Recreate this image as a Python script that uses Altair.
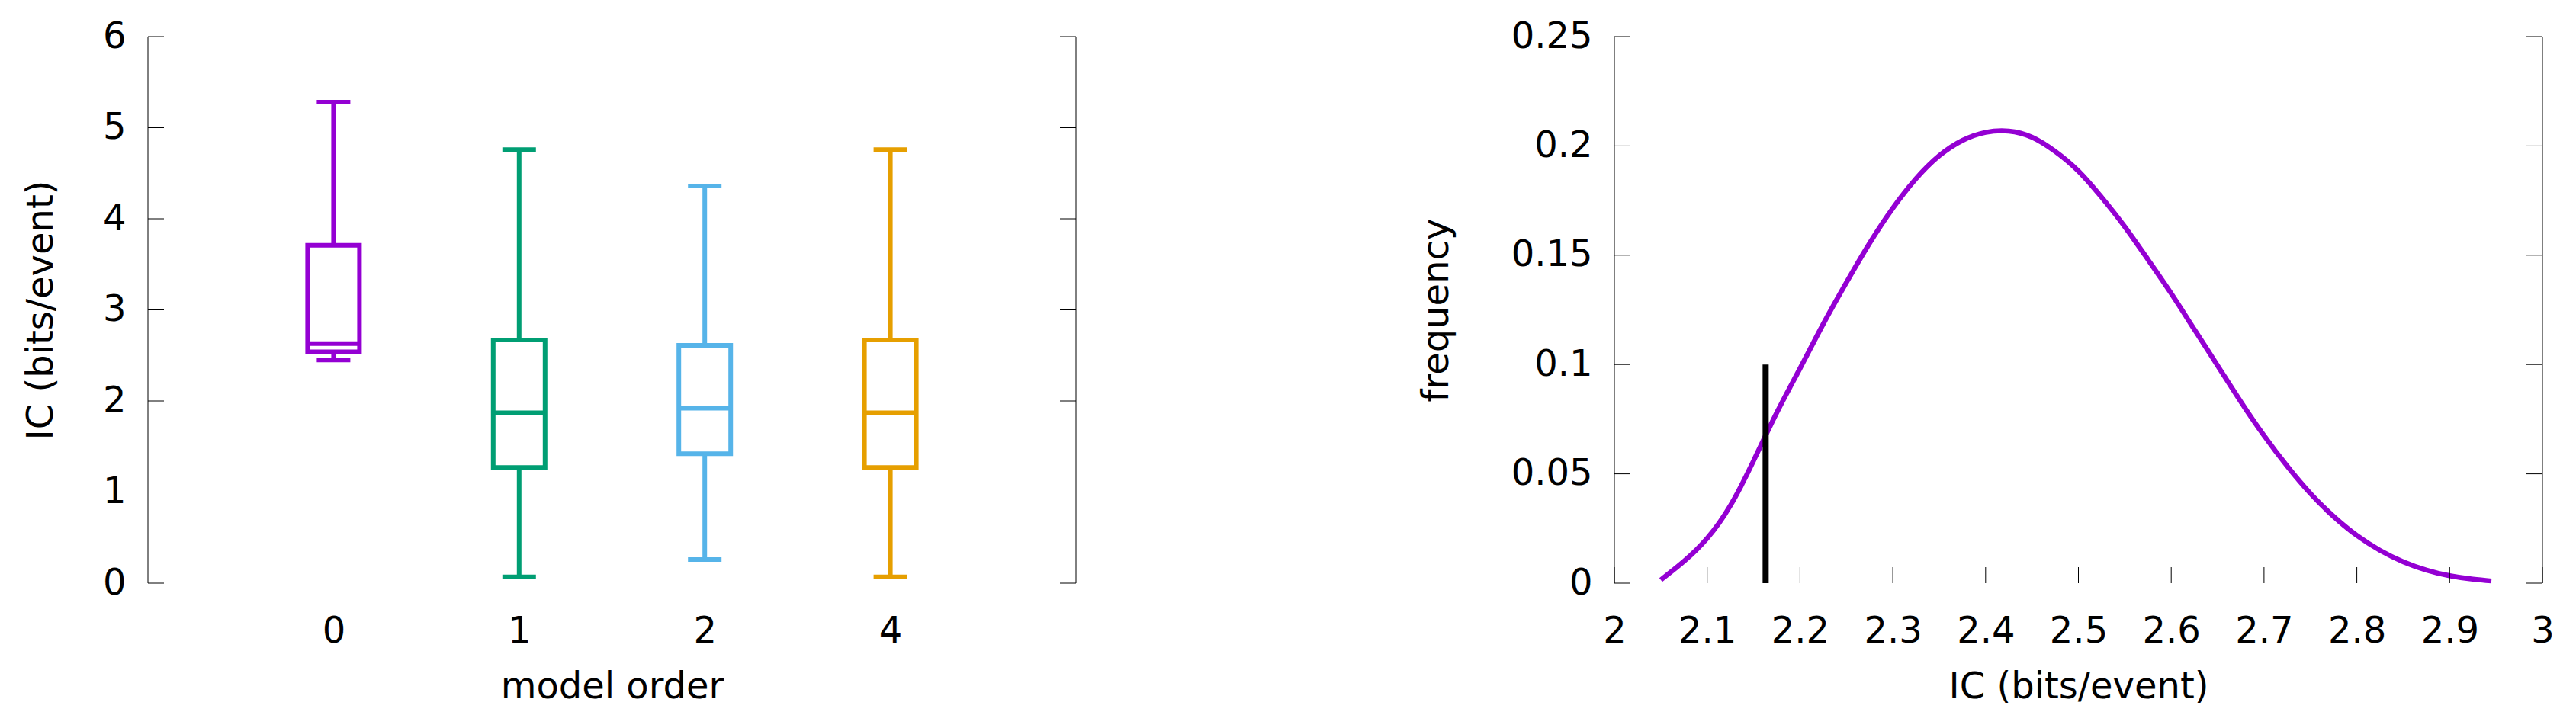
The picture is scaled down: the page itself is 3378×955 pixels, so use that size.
import altair as alt
import pandas as pd

# ---------------- data ----------------
orders = ["0", "1", "2", "4"]
box_colors = ["#9400D3", "#009E73", "#56B4E9", "#E69F00"]
whisker_low = [2.45, 0.07, 0.26, 0.07]
q1 = [2.54, 1.27, 1.42, 1.27]
median = [2.63, 1.87, 1.92, 1.87]
q3 = [3.71, 2.67, 2.61, 2.67]
whisker_high = [5.28, 4.76, 4.36, 4.76]

left_yticks = [0, 1, 2, 3, 4, 5, 6]

ic_x = [2.050, 2.075, 2.100, 2.125, 2.150, 2.175, 2.200, 2.225, 2.250, 2.275,
        2.300, 2.325, 2.350, 2.375, 2.400, 2.425, 2.450, 2.475, 2.500, 2.525,
        2.550, 2.575, 2.600, 2.625, 2.650, 2.675, 2.700, 2.725, 2.750, 2.775,
        2.800, 2.825, 2.850, 2.875, 2.900, 2.925, 2.945]
freq = [0.0015, 0.0100, 0.0205, 0.0355, 0.0560, 0.0780, 0.0982, 0.1185, 0.1375, 0.1555,
        0.1715, 0.1850, 0.1955, 0.2025, 0.2062, 0.2068, 0.2040, 0.1975, 0.1885, 0.1765,
        0.1630, 0.1480, 0.1325, 0.1160, 0.0995, 0.0830, 0.0675, 0.0535, 0.0410, 0.0305,
        0.0218, 0.0150, 0.0098, 0.0060, 0.0034, 0.0018, 0.0010]

obs_x = [2.163]
obs_y0 = [0.0]
obs_y1 = [0.1]

right_xticks = [2.0, 2.1, 2.2, 2.3, 2.4, 2.5, 2.6, 2.7, 2.8, 2.9, 3.0]
right_yticks = [0.0, 0.05, 0.1, 0.15, 0.2, 0.25]

# ---------------- layout constants ----------------
W = 1217
H = 717
TICK = 21
FONT = "DejaVu Sans"
FS = 48

boxes = pd.DataFrame({
    "order": orders, "low": whisker_low, "q1": q1, "med": median,
    "q3": q3, "high": whisker_high,
})

xscale = alt.Scale(type="point", domain=orders, padding=1)
yscale_l = alt.Scale(domain=[0, 6], nice=False, zero=False)
cscale = alt.Scale(domain=orders, range=box_colors)

xaxis_l = alt.Axis(title="model order", labelAngle=0, labelPadding=39, titlePadding=25)
yaxis_l = alt.Axis(title="IC (bits/event)", values=left_yticks, titlePadding=56,
                   labelPadding=29)

xenc = alt.X("order:O", scale=xscale, axis=xaxis_l)
colenc = alt.Color("order:N", scale=cscale, legend=None)


def yl(field):
    return alt.Y(field, scale=yscale_l, axis=yaxis_l)


base = alt.Chart(boxes)

whisk_up = base.mark_rule(strokeWidth=6, opacity=1).encode(
    x=xenc, y=yl("q3:Q"), y2="high:Q", color=colenc)
whisk_dn = base.mark_rule(strokeWidth=6, opacity=1).encode(
    x=xenc, y=yl("low:Q"), y2="q1:Q", color=colenc)
box = base.mark_bar(filled=False, size=68, strokeWidth=6, opacity=1).encode(
    x=xenc, y=yl("q1:Q"), y2="q3:Q", color=colenc)
med = base.mark_tick(size=68, thickness=6, opacity=1).encode(
    x=xenc, y=yl("med:Q"), color=colenc)
cap_hi = base.mark_tick(size=44, thickness=6, opacity=1).encode(
    x=xenc, y=yl("high:Q"), color=colenc)
cap_lo = base.mark_tick(size=44, thickness=6, opacity=1).encode(
    x=xenc, y=yl("low:Q"), color=colenc)

lt = pd.DataFrame({"v": left_yticks})
ltick_l = alt.Chart(lt).mark_rule(color="black", strokeWidth=1).encode(
    y=yl("v:Q"), x=alt.value(0), x2=alt.value(TICK))
ltick_r = alt.Chart(lt).mark_rule(color="black", strokeWidth=1).encode(
    y=yl("v:Q"), x=alt.value(W - TICK), x2=alt.value(W))

one = alt.Data(values=[{"a": 1}])
border_l = alt.Chart(one).mark_rule(color="black", strokeWidth=1).encode(
    x=alt.value(0), y=alt.value(0), y2=alt.value(H))
border_r = alt.Chart(one).mark_rule(color="black", strokeWidth=1).encode(
    x=alt.value(W), y=alt.value(0), y2=alt.value(H))

left = alt.layer(whisk_up, whisk_dn, box, med, cap_hi, cap_lo,
                 ltick_l, ltick_r, border_l, border_r).properties(width=W, height=H)

# ---------------- right panel ----------------
curve_df = pd.DataFrame({"ic": ic_x, "freq": freq})
xscale_r = alt.Scale(domain=[2, 3], nice=False, zero=False)
yscale_r = alt.Scale(domain=[0, 0.25], nice=False, zero=False)
xaxis_r = alt.Axis(title="IC (bits/event)", values=right_xticks, format=".1~f",
                   labelPadding=39, titlePadding=25, labelFlush=False)
yaxis_r = alt.Axis(title="frequency", values=right_yticks, format=".2~f",
                   titlePadding=73, labelPadding=29, labelFlush=False)


def xr(field):
    return alt.X(field, scale=xscale_r, axis=xaxis_r)


def yr(field):
    return alt.Y(field, scale=yscale_r, axis=yaxis_r)


curve = alt.Chart(curve_df).mark_line(color="#9400D3", strokeWidth=6.5,
                                      interpolate="natural").encode(
    x=xr("ic:Q"), y=yr("freq:Q"))

obs_df = pd.DataFrame({"x": obs_x, "y0": obs_y0, "y1": obs_y1})
obs = alt.Chart(obs_df).mark_rule(color="black", strokeWidth=8).encode(
    x=xr("x:Q"), y=yr("y0:Q"), y2="y1:Q")

rxt = pd.DataFrame({"v": right_xticks})
rxtick = alt.Chart(rxt).mark_rule(color="black", strokeWidth=1).encode(
    x=xr("v:Q"), y=alt.value(H - TICK), y2=alt.value(H))
ryt = pd.DataFrame({"v": right_yticks})
rytick_l = alt.Chart(ryt).mark_rule(color="black", strokeWidth=1).encode(
    y=yr("v:Q"), x=alt.value(0), x2=alt.value(TICK))
rytick_r = alt.Chart(ryt).mark_rule(color="black", strokeWidth=1).encode(
    y=yr("v:Q"), x=alt.value(W - TICK), x2=alt.value(W))

right = alt.layer(curve, obs, rxtick, rytick_l, rytick_r, border_l, border_r).properties(
    width=W, height=H)

chart = alt.hconcat(left, right, spacing=448).properties(
    padding={"left": 22, "top": 16, "right": 0, "bottom": 0},
    background="white",
).configure_view(stroke=None).configure_axis(
    labelFont=FONT, labelFontSize=FS, labelColor="black",
    titleFont=FONT, titleFontSize=FS, titleColor="black", titleFontWeight="normal",
    grid=False, ticks=False, tickSize=0, domain=False, labelOverlap=False,
)

chart.save("out.html", embed_options={"renderer": "svg", "actions": False})
